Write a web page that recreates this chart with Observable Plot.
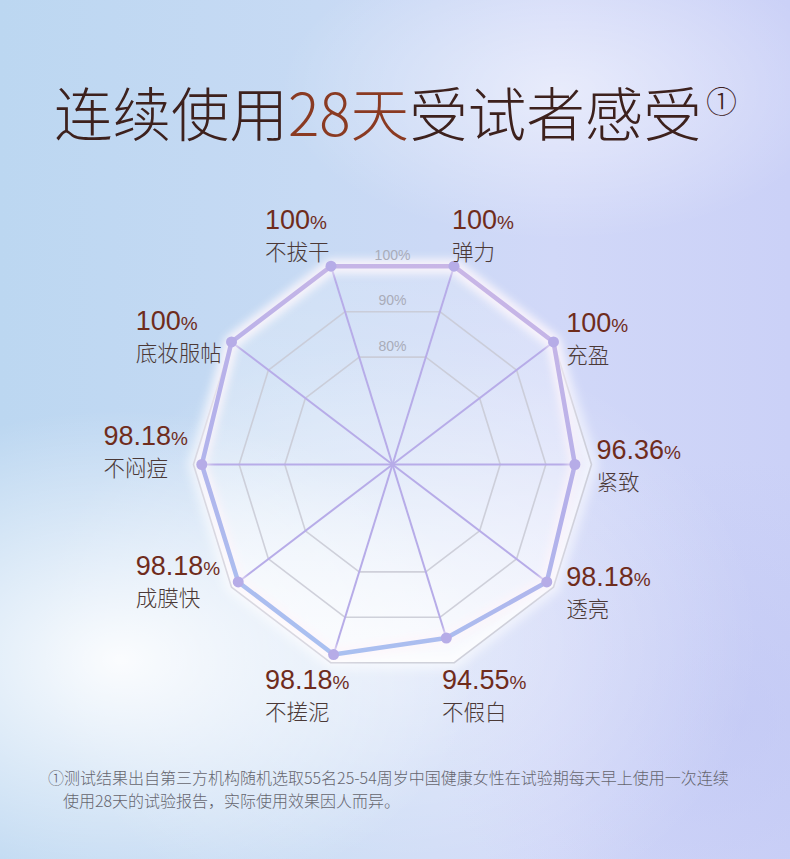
<!DOCTYPE html>
<html>
<head>
<meta charset="utf-8">
<script src="https://cdn.jsdelivr.net/npm/d3@7"></script>
<script src="https://cdn.jsdelivr.net/npm/@observablehq/plot@0.6"></script>
<style>
html, body { margin: 0; padding: 0; }
body { width: 790px; height: 859px; overflow: hidden; }
#page {
  position: relative; width: 790px; height: 859px; overflow: hidden;
  background:
    radial-gradient(ellipse 360px 250px at 120px 660px, rgba(255,255,255,0.92), rgba(255,255,255,0) 100%),
    radial-gradient(ellipse 280px 150px at 560px 90px, rgba(255,255,255,0.5), rgba(255,255,255,0) 100%),
    radial-gradient(ellipse 360px 300px at 400px 640px, rgba(255,255,255,0.5), rgba(255,255,255,0) 100%),
    radial-gradient(ellipse 300px 260px at 740px 720px, rgba(192,198,244,0.55), rgba(192,198,244,0) 100%),
    linear-gradient(90deg, #bcd7f1 0%, #c7daf4 40%, #d1d8f8 70%, #cbd1f7 100%);
}
#title {
  position: absolute; left: 54px; top: 82px; margin: 0;
  font-family: "Noto Sans CJK SC", sans-serif; font-weight: 300;
  font-size: 58.5px; line-height: 58px; color: #3d211d; white-space: nowrap;
}
#title .hl { color: #8a3a22; }
#title .mark { position: absolute; left: 652px; top: 2px; font-size: 31px; line-height: 31px; font-weight: 300; }
#chart { position: absolute; left: 0; top: 0; }
#note {
  position: absolute; left: 48px; top: 766px; width: 720px;
  font-family: "Noto Sans CJK SC", sans-serif; font-weight: 300;
  font-size: 16px; line-height: 23px; color: #66666f;
}
#note div + div { padding-left: 15px; }
</style>
</head>
<body>
<div id="page">
  <div id="title"></div>
  <div id="chart"></div>
  <div id="note"></div>
</div>
<script>
// ---- data ----
const categories = ["不拔干", "弹力", "充盈", "紧致", "透亮", "不假白", "不搓泥", "成膜快", "不闷痘", "底妆服帖"];
const values = [100, 100, 100, 96.36, 98.18, 94.55, 98.18, 98.18, 98.18, 100];
const gridLevels = [80, 90, 100];
const gridTexts = ["80%", "90%", "100%"];
const titleParts = ["连续使用", "28天", "受试者感受"];
const titleMark = "①";
const footnoteLines = [
  "①测试结果出自第三方机构随机选取55名25-54周岁中国健康女性在试验期每天早上使用一次连续",
  "使用28天的试验报告，实际使用效果因人而异。"
];

// ---- title / note ----
const t = document.getElementById("title");
titleParts.forEach((p, i) => {
  const s = document.createElement("span");
  if (i === 1) s.className = "hl";
  s.textContent = p;
  t.appendChild(s);
});
const m = document.createElement("span");
m.className = "mark"; m.textContent = titleMark; t.appendChild(m);
const note = document.getElementById("note");
footnoteLines.forEach(l => { const d = document.createElement("div"); d.textContent = l; note.appendChild(d); });

// ---- layout ----
const W = 790, H = 859, CX = 392, CY = 464, RX = 199, RY = 208.5;
const rad = d3.scaleLinear().domain([56.4, 100]).range([0, 1]);
const ang = i => (-18 + 36 * i) * Math.PI / 180;

const pts = categories.map((c, i) => {
  const a = ang(i), r = rad(values[i]);
  return {c, v: values[i], i, x: r * Math.sin(a), y: r * Math.cos(a)};
});
const rings = gridLevels.flatMap(l => categories.map((c, i) => ({
  l, x: rad(l) * Math.sin(ang(i)), y: rad(l) * Math.cos(ang(i))
})));
const outer = rings.filter(d => d.l === 100);

// label anchor = value-line centre; offsets (px) follow the side of the axis
function labelPos(i) {
  const a = ang(i), s = Math.sin(a), c = Math.cos(a);
  let dx, dy;
  if (c > 0.9) { dx = s < 0 ? -66 : -2; dy = -46; }
  else if (c < -0.9) { dx = s < 0 ? -66 : -12; dy = 18; }
  else if (s > 0) { dx = 5 + 13 * Math.abs(c); dy = -14 - 8 * c; }
  else { dx = -90 - 10 * Math.abs(c); dy = -28 + 13 * Math.abs(c); }
  return {x: s + dx / RX, y: c - dy / RY};
}
const labels = pts.map(d => ({...d, ...labelPos(d.i)}));
const cos18 = Math.cos(Math.PI / 10);
const LINE_GAP = 32.5;

const plot = Plot.plot({
  width: W, height: H, margin: 0,
  x: {domain: [-1, 1], range: [CX - RX, CX + RX], axis: null},
  y: {domain: [-1, 1], range: [CY + RY, CY - RY], axis: null},
  style: {background: "transparent", overflow: "visible"},
  marks: [
    Plot.line(outer, {x: "x", y: "y", curve: "linear-closed", fill: "url(#innerFill)", stroke: "none"}),
    Plot.line(outer, {x: "x", y: "y", curve: "linear-closed", stroke: "white", strokeWidth: 14, strokeOpacity: 0.5, className: "glow"}),
    Plot.line(rings, {x: "x", y: "y", z: "l", curve: "linear-closed", stroke: "#c8c9d3", strokeWidth: 1.6, strokeOpacity: 0.85}),
    Plot.link(pts, {x1: 0, y1: 0, x2: "x", y2: "y", stroke: "#b7ace8", strokeWidth: 2}),
    Plot.line(pts, {x: "x", y: "y", curve: "linear-closed", stroke: "#fff4fa", strokeWidth: 11, strokeOpacity: 0.75, className: "glow"}),
    Plot.line(pts, {x: "x", y: "y", curve: "linear-closed", stroke: "url(#lineGrad)", strokeWidth: 4.5, strokeLinejoin: "round"}),
    Plot.dot(pts, {x: "x", y: "y", r: 5.5, fill: "#b6ace7", stroke: "none"}),
    Plot.text(gridLevels, {x: 0, y: (d) => rad(d) * cos18 + 11 / RY, text: (d, i) => gridTexts[i],
      fill: "#a9acb9", fontSize: 14, fontFamily: "Liberation Sans, Arial, sans-serif"}),
    Plot.text(labels, {x: "x", y: "y", text: d => `${d.v}\n${d.c}`, lineHeight: 1, textAnchor: "start",
      fill: "#6f2c1c", fontSize: 27, fontFamily: "Liberation Sans, Arial, sans-serif", className: "lbl"})
  ]
});

const svg = d3.select(plot);
const defs = svg.insert("defs", ":first-child");
const g1 = defs.append("linearGradient").attr("id", "innerFill")
  .attr("gradientUnits", "userSpaceOnUse").attr("x1", 0).attr("y1", CY - RY).attr("x2", 0).attr("y2", CY + RY);
g1.append("stop").attr("offset", 0).attr("stop-color", "#ffffff").attr("stop-opacity", 0.15);
g1.append("stop").attr("offset", 0.5).attr("stop-color", "#ffffff").attr("stop-opacity", 0.35);
g1.append("stop").attr("offset", 1).attr("stop-color", "#ffffff").attr("stop-opacity", 0.8);
const g2 = defs.append("linearGradient").attr("id", "lineGrad")
  .attr("gradientUnits", "userSpaceOnUse").attr("x1", 450).attr("y1", 260).attr("x2", 330).attr("y2", 660);
g2.append("stop").attr("offset", 0).attr("stop-color", "#c9b6e6");
g2.append("stop").attr("offset", 0.5).attr("stop-color", "#b4b0ea");
g2.append("stop").attr("offset", 1).attr("stop-color", "#a9c1f1");
defs.append("filter").attr("id", "blur").attr("x", "-20%").attr("y", "-20%").attr("width", "140%").attr("height", "140%")
  .append("feGaussianBlur").attr("stdDeviation", 4);
svg.selectAll("g.glow").attr("filter", "url(#blur)");

svg.selectAll("g.lbl text").each(function () {
  const spans = this.querySelectorAll("tspan");
  if (spans.length < 2) return;
  const v = d3.select(spans[0]), c = d3.select(spans[1]);
  v.attr("dy", null).attr("y", 8.6);
  v.append("tspan").attr("font-size", 19).text("%");
  c.attr("dy", null).attr("y", LINE_GAP + 6.9)
    .attr("font-size", 21.5).attr("font-weight", 300)
    .attr("font-family", "Noto Sans CJK SC, sans-serif").attr("fill", "#4b3937");
});

document.getElementById("chart").appendChild(plot);
</script>
</body>
</html>
